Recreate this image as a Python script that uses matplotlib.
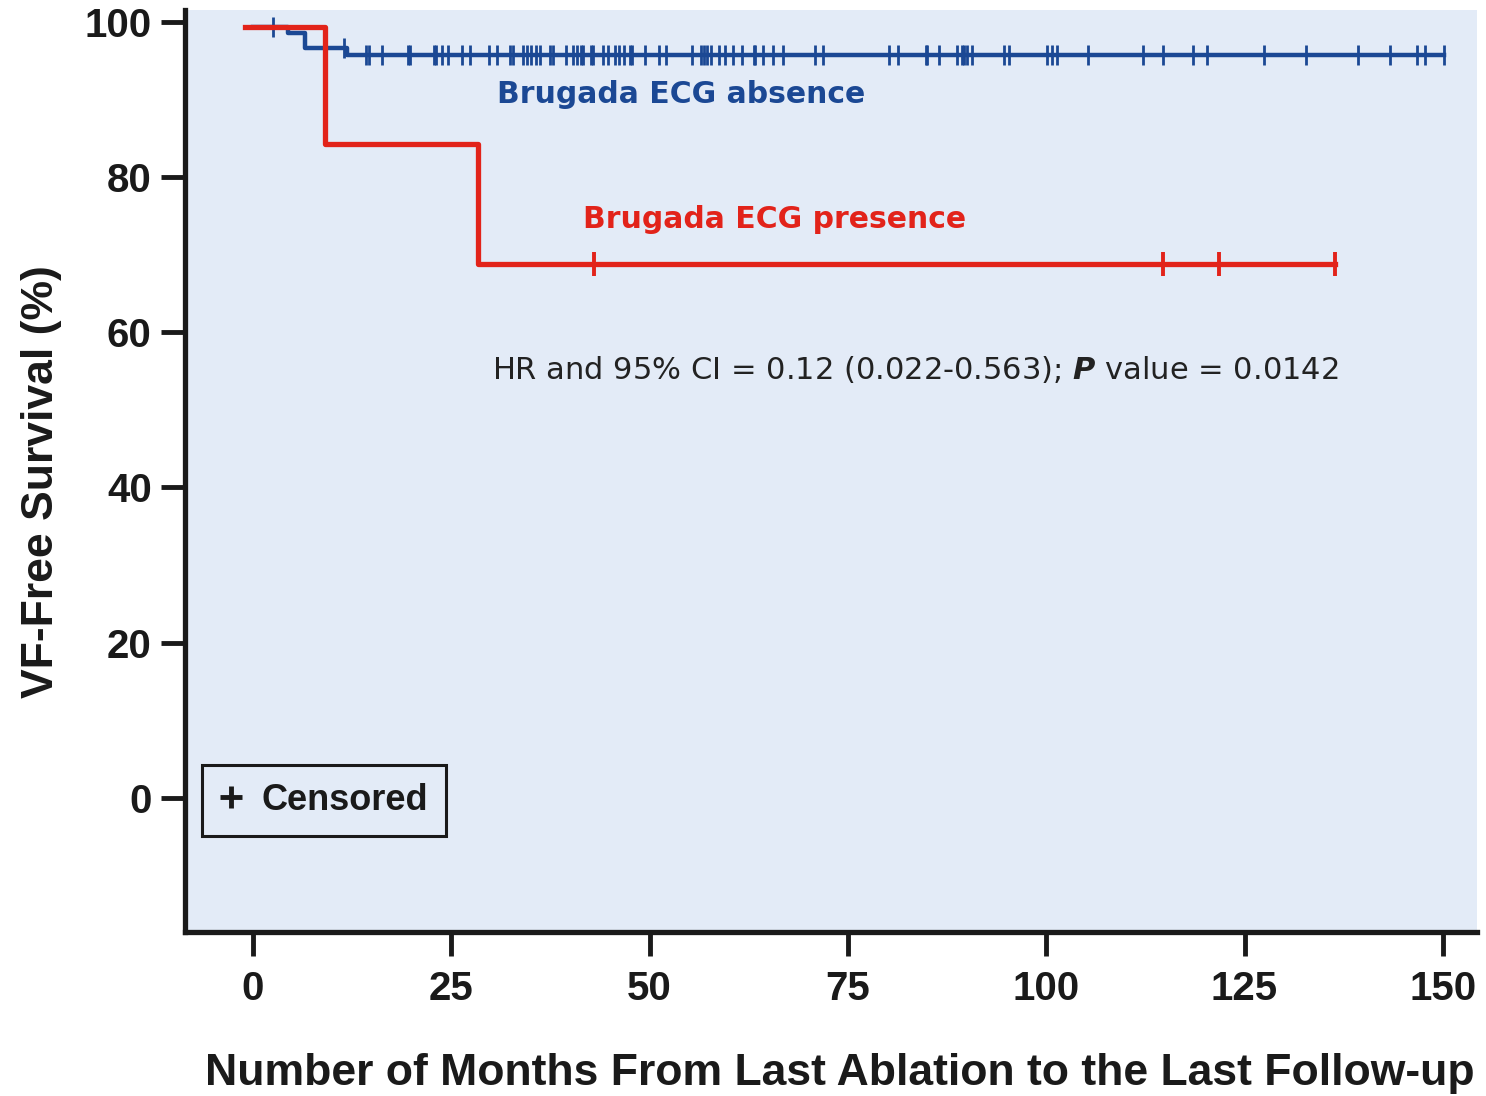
import numpy as np
import matplotlib
matplotlib.use("Agg")
import matplotlib.pyplot as plt
from matplotlib.lines import Line2D

plt.rcParams['font.family'] = ['Liberation Sans', 'DejaVu Sans']
plt.rcParams['mathtext.fontset'] = 'custom'
plt.rcParams['mathtext.it'] = 'DejaVu Sans:italic:bold'
plt.rcParams['mathtext.rm'] = 'DejaVu Sans'

# Kaplan-Meier steps (months, % VF-free)
red_times = [-1.0, 9.1, 28.4, 136.4]
red_surv = [99.4, 84.3, 68.8, 68.8]
red_censored = [43.0, 114.7, 121.8, 136.4]

blue_times = [0.0, 4.4, 6.6, 11.8, 150.2]
blue_surv = [99.4, 98.6, 96.7, 95.8, 95.8]
blue_censored = [2.5, 11.5, 14.3, 14.6, 16.3, 19.5, 19.8, 22.8, 23.1, 23.8, 24.6, 26.3, 27.4,
                 29.7, 30.7, 32.4, 32.8, 34.0, 34.5, 35.0, 35.7, 36.2, 37.5, 37.8,
                 39.5, 40.4, 40.9, 41.3, 41.6, 42.6, 42.9, 44.1, 44.8, 45.6, 46.2, 46.8,
                 47.5, 47.8, 49.4, 51.2, 52.1, 55.3, 56.5, 56.8, 57.2, 57.8, 58.7, 59.5,
                 60.5, 61.6, 63.1, 63.3, 64.3, 65.6, 66.8, 70.9, 71.9, 80.2, 81.3,
                 84.8, 85.0, 86.5, 88.7, 89.4, 89.6, 90.0, 90.6, 94.7, 95.3, 100.1,
                 100.7, 101.3, 105.3, 112.2, 114.7, 118.5, 120.3, 127.4, 132.8, 139.3,
                 143.3, 146.8, 147.8, 150.2]

xticks = [0, 25, 50, 75, 100, 125, 150]
yticks = [0, 20, 40, 60, 80, 100]

RED = '#e2231a'
BLUE = '#1b4894'
BG = '#e3ebf7'
INK = '#1a1a1a'


def level_at(times, surv, t):
    idx = np.searchsorted(times, t, side='right') - 1
    return np.asarray(surv)[np.clip(idx, 0, len(surv) - 1)]


fig = plt.figure(figsize=(14.86, 10.96), dpi=100)
ax = fig.add_axes([0.1245, 0.1496, 0.8694, 0.8413])
ax.set_facecolor(BG)

ax.step(blue_times, blue_surv, where='post', color=BLUE, lw=3.2)
ax.plot(blue_censored, level_at(blue_times, blue_surv, blue_censored), linestyle='none',
        marker='|', markersize=14, mew=2.0, color=BLUE)

ax.step(red_times, red_surv, where='post', color=RED, lw=3.8)
ax.plot(red_censored, level_at(red_times, red_surv, red_censored), linestyle='none',
        marker='|', markersize=17, mew=2.8, color=RED)

ax.text(30.8, 90.6, 'Brugada ECG absence', color=BLUE, fontsize=21.5, fontweight='bold',
        family='DejaVu Sans', va='center', ha='left')
ax.text(41.6, 74.5, 'Brugada ECG presence', color=RED, fontsize=21.5, fontweight='bold',
        family='DejaVu Sans', va='center', ha='left')
ax.text(30.1, 55.2, r'HR and 95% CI = 0.12 (0.022-0.563); $P$ value = 0.0142',
        color='#222222', fontsize=22, family='DejaVu Sans', va='center', ha='left')

ax.set_xlim(-8.57, 154.3)
ax.set_ylim(-17.3, 101.55)
ax.set_xticks(xticks)
ax.set_yticks(yticks)
ax.tick_params(axis='both', which='major', labelsize=29, width=3.5, length=17, color=INK,
               labelcolor=INK)
ax.tick_params(axis='x', pad=10)
ax.tick_params(axis='y', pad=7)
for lab in ax.get_xticklabels() + ax.get_yticklabels():
    lab.set_fontweight('bold')

for side in ['top', 'right']:
    ax.spines[side].set_visible(False)
for side in ['left', 'bottom']:
    ax.spines[side].set_linewidth(3.8)
    ax.spines[side].set_color(INK)

ax.set_ylabel('VF-Free Survival (%)', fontsize=32, fontweight='bold', color=INK)
ax.yaxis.set_label_coords(-0.0952, 0.489)
ax.set_xlabel('Number of Months From Last Ablation to the Last Follow-up', fontsize=32,
              fontweight='bold', color=INK)
ax.xaxis.set_label_coords(0.507, -0.131)

handle = Line2D([], [], linestyle='none', marker='+', markersize=16, mew=3.5, color=INK)
leg = ax.legend([handle], ['Censored'], loc='lower left', bbox_to_anchor=(0.013, 0.104),
                frameon=True, fancybox=False, handlelength=0.6, handletextpad=0.55,
                borderpad=0.5, borderaxespad=0,
                prop={'weight': 'bold', 'size': 26})
leg.get_frame().set_edgecolor(INK)
leg.get_frame().set_linewidth(2.2)
leg.get_frame().set_facecolor(BG)
leg.get_frame().set_alpha(1)
for t in leg.get_texts():
    t.set_color(INK)

fig.savefig('out.png', dpi=100)
